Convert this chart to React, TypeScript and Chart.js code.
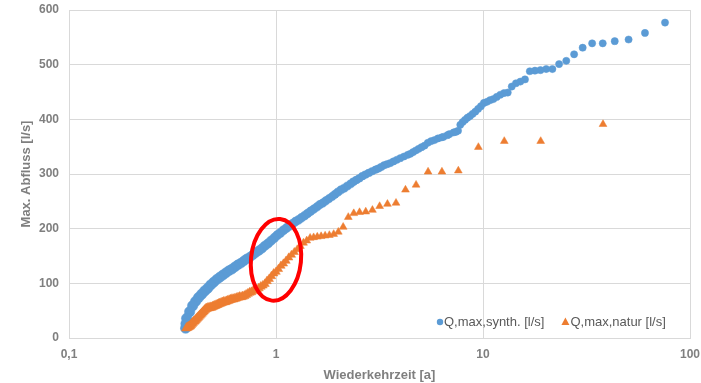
import React, { useEffect, useRef } from "react";
import { Chart, registerables } from "chart.js";

Chart.register(...registerables);

// Return period [a] and max. discharge [l/s], synthetic series
const synthT = [
  75.75, 60.6, 50.5, 43.29, 37.88, 33.67, 30.3, 27.55, 25.25, 23.31, 21.64, 20.2, 18.94, 17.82, 16.83,
  15.95, 15.15, 14.43, 13.77, 13.17, 12.63, 12.12, 11.65, 11.22, 10.82, 10.45, 10.1,
  9.774, 9.469, 9.182, 8.912, 8.657, 8.417, 8.189, 7.974, 7.769, 7.575, 7.39, 7.214, 6.886, 6.733,
  6.447, 6.313, 6.06, 5.827, 5.611, 5.411, 5.224, 5.05, 4.887, 4.734, 4.591, 4.456, 4.329, 4.151,
  3.987, 3.835, 3.695, 3.565, 3.443, 3.33, 3.223, 3.124, 3.03, 2.913, 2.806, 2.705, 2.612, 2.525,
  2.444, 2.367, 2.295, 2.212, 2.134, 2.061, 1.993, 1.93, 1.87, 1.804, 1.741, 1.683, 1.629, 1.578,
  1.523, 1.471, 1.423, 1.377, 1.329, 1.284, 1.242, 1.202, 1.161, 1.122, 1.086, 1.048, 1.013,
  0.9806, 0.9469, 0.9154, 0.886, 0.8559, 0.8279, 0.7995, 0.773, 0.7481, 0.7232, 0.6998, 0.6763,
  0.6544, 0.6326, 0.6121, 0.5918, 0.5717, 0.5529, 0.5344, 0.5171, 0.5, 0.4833, 0.4676, 0.4522,
  0.4372, 0.4226, 0.4089, 0.3956, 0.3826, 0.37, 0.3673, 0.3659,
];
const synthQ = [
  577, 558, 546, 543, 539, 539, 531, 519, 507, 501, 492, 492, 490, 489, 488,
  473, 469, 466, 460, 449, 448, 445, 441, 437, 435, 432, 430,
  424, 419, 414, 410, 406, 403, 399, 395, 390, 379, 377, 376, 373, 371,
  368, 367, 365, 362, 360, 357, 352, 349, 346, 343, 340, 337, 335, 332,
  329, 326, 323, 320, 318, 316, 313, 310, 308, 305, 302, 299, 296, 292,
  289, 286, 282, 278, 274, 271, 267, 263, 259, 255, 251, 247, 244, 240,
  236, 232, 228, 224, 220, 216, 213, 209, 205, 201, 197, 192, 188,
  183, 178, 173, 169, 164, 160, 156, 152, 148, 145, 141, 137,
  134, 130, 126, 123, 119, 115, 111, 107, 102, 97, 91, 86,
  80, 74, 67, 59, 48, 36, 26, 18,
];

// Return period [a] and max. discharge [l/s], natural series
const naturT = [
  38, 19, 12.67, 9.5, 7.6, 6.333, 5.429, 4.75, 4.222, 3.8, 3.455, 3.167, 2.923, 2.714, 2.533,
  2.375, 2.235, 2.111, 2.0, 1.9, 1.81, 1.727, 1.652, 1.583, 1.52, 1.462, 1.407, 1.357, 1.31,
  1.267, 1.226, 1.188, 1.152, 1.118, 1.086, 1.056, 1.027, 1.0, 0.9744, 0.95, 0.9268, 0.9048,
  0.8837, 0.8636, 0.8444, 0.8261, 0.8085, 0.7917, 0.7755, 0.76, 0.7451, 0.7308, 0.717, 0.7037,
  0.6909, 0.6786, 0.6667, 0.6552, 0.6441, 0.6333, 0.623, 0.6129, 0.6032, 0.5938, 0.5846, 0.5758,
  0.5672, 0.5588, 0.5507, 0.5429, 0.5352, 0.5278, 0.5205, 0.5135, 0.5067, 0.5, 0.4935, 0.4872,
  0.481, 0.475, 0.4691, 0.4634, 0.4578, 0.4524, 0.4471, 0.4419, 0.4368, 0.4318, 0.427, 0.4222,
  0.4176, 0.413, 0.4086, 0.4043, 0.4, 0.3958, 0.3918, 0.3878, 0.3838, 0.38, 0.3762, 0.3725, 0.3689,
];
const naturQ = [
  391, 360, 360, 349, 306, 304, 304, 280, 271, 247, 245, 241, 234, 231, 230,
  228, 221, 203, 194, 190, 188, 187, 186, 185, 184, 183, 178, 174, 168,
  162, 157, 152, 147, 141, 136, 132, 126, 121, 118, 113, 108, 104,
  99, 96, 94, 91, 89, 88, 86, 84, 83, 81, 79, 77,
  76, 75, 75, 74, 73, 72, 71, 71, 70, 69, 68, 67,
  66, 66, 65, 64, 63, 62, 61, 60, 59, 58, 57, 56,
  56, 55, 55, 54, 53, 51, 49, 47, 45, 43, 41, 39,
  37, 35, 33, 31, 30, 28, 26, 24, 22, 21, 20, 19, 18,
];

const seriesLabels = ["Q,max,synth. [l/s]", "Q,max,natur [l/s]"];
const xTickValues = [0.1, 1, 10, 100];
const yTickValues = [0, 100, 200, 300, 400, 500, 600];
const xTitle = "Wiederkehrzeit [a]";
const yTitle = "Max. Abfluss [l/s]";
// highlighted region (red ellipse) around T = 1 a
const highlightT = 1.0;
const highlightQ = 143;

const BLUE = "#5b9bd5";
const ORANGE = "#ed7d31";
const FONT = "'Liberation Sans', Arial, sans-serif";

// marker size grows where many overlapping events form a dense band (style only)
function bandRadius(t: number, base: number, extra: number, tHi: number, tLo: number) {
  const f = (Math.log10(tHi) - Math.log10(t)) / (Math.log10(tHi) - Math.log10(tLo));
  return base + extra * Math.max(0, Math.min(1, f));
}

export default function App() {
  const ref = useRef<HTMLCanvasElement | null>(null);

  useEffect(() => {
    document.body.style.margin = "0";
    const canvas = ref.current;
    if (!canvas) return;

    const legendPlugin = {
      id: "customLegend",
      afterDraw(chart: any) {
        const { ctx, chartArea } = chart;
        ctx.save();
        ctx.font = `13px ${FONT}`;
        ctx.fillStyle = "#595959";
        ctx.textBaseline = "middle";
        const y = chartArea.bottom - 16;
        let x = chartArea.right - 250;
        ctx.beginPath();
        ctx.fillStyle = BLUE;
        ctx.arc(x, y, 3.2, 0, Math.PI * 2);
        ctx.fill();
        ctx.fillStyle = "#595959";
        ctx.fillText(seriesLabels[0], x + 4, y);
        x = x + 4 + ctx.measureText(seriesLabels[0]).width + 21;
        ctx.beginPath();
        ctx.fillStyle = ORANGE;
        ctx.moveTo(x, y - 4.5);
        ctx.lineTo(x + 4, y + 3);
        ctx.lineTo(x - 4, y + 3);
        ctx.closePath();
        ctx.fill();
        ctx.fillStyle = "#595959";
        ctx.fillText(seriesLabels[1], x + 5, y);
        ctx.restore();
      },
    };

    const ellipsePlugin = {
      id: "highlightEllipse",
      afterDatasetsDraw(chart: any) {
        const { ctx } = chart;
        const cx = chart.scales.x.getPixelForValue(highlightT);
        const cy = chart.scales.y.getPixelForValue(highlightQ);
        ctx.save();
        ctx.beginPath();
        ctx.strokeStyle = "#ff0000";
        ctx.lineWidth = 4;
        ctx.ellipse(cx, cy, 25, 41, 0.1, 0, Math.PI * 2);
        ctx.stroke();
        ctx.restore();
      },
    };

    const chart = new Chart(canvas, {
      type: "scatter",
      data: {
        datasets: [
          {
            label: seriesLabels[0],
            data: synthT.map((t, i) => ({ x: t, y: synthQ[i] })),
            backgroundColor: BLUE,
            borderColor: BLUE,
            borderWidth: 0.5,
            pointRadius: (c: any) => bandRadius(synthT[c.dataIndex] ?? 10, 3.6, 1.6, 4, 0.45),
            pointStyle: "circle",
            order: 2,
          },
          {
            label: seriesLabels[1],
            data: naturT.map((t, i) => ({ x: t, y: naturQ[i] })),
            backgroundColor: ORANGE,
            borderColor: ORANGE,
            borderWidth: 0.5,
            pointRadius: (c: any) => bandRadius(naturT[c.dataIndex] ?? 10, 4.5, 1.0, 1.5, 0.6),
            pointStyle: "triangle",
            order: 1,
          },
        ],
      },
      options: {
        responsive: false,
        animation: false,
        events: [],
        layout: { padding: { top: 10, right: 11, left: 0, bottom: 0 } },
        plugins: {
          legend: { display: false },
          tooltip: { enabled: false },
        },
        scales: {
          x: {
            type: "logarithmic",
            min: 0.1,
            max: 100,
            afterBuildTicks: (s: any) => {
              s.ticks = xTickValues.map((v) => ({ value: v }));
            },
            afterFit: (s: any) => {
              s.height = 45;
              s.paddingLeft = 0;
              s.paddingRight = 0;
            },
            grid: { color: "#d9d9d9", drawTicks: false },
            border: { color: "#d9d9d9" },
            ticks: {
              autoSkip: false,
              maxRotation: 0,
              padding: 9,
              color: "#7f7f7f",
              font: { family: FONT, size: 12, weight: "bold" },
              callback: (v: any) => String(v).replace(".", ","),
            },
            title: {
              display: true,
              text: xTitle,
              color: "#7f7f7f",
              font: { family: FONT, size: 13, weight: "bold" },
              padding: { top: 0, bottom: 0 },
            },
          },
          y: {
            min: 0,
            max: 600,
            afterBuildTicks: (s: any) => {
              s.ticks = yTickValues.map((v) => ({ value: v }));
            },
            afterFit: (s: any) => {
              s.width = 69;
              s.paddingTop = 0;
              s.paddingBottom = 0;
            },
            grid: { color: "#d9d9d9", drawTicks: false },
            border: { color: "#d9d9d9" },
            ticks: {
              padding: 10,
              color: "#7f7f7f",
              font: { family: FONT, size: 12, weight: "bold" },
            },
            title: {
              display: true,
              text: yTitle,
              color: "#7f7f7f",
              font: { family: FONT, size: 13, weight: "bold" },
              padding: { top: 19, bottom: 0 },
            },
          },
        },
      },
      plugins: [ellipsePlugin, legendPlugin],
    } as any);

    return () => chart.destroy();
  }, []);

  return (
    <div style={{ position: "fixed", left: 0, top: 0, width: 701, height: 383, background: "#fff" }}>
      <canvas ref={ref} width={701} height={383} style={{ display: "block" }} />
    </div>
  );
}
